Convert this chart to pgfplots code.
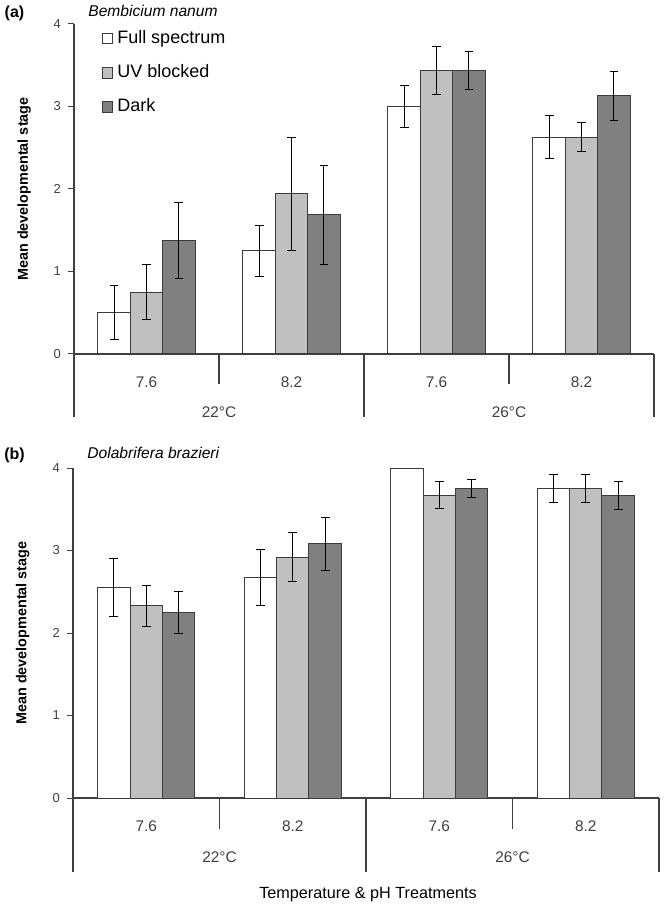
\documentclass[border=0pt]{standalone}
\usepackage{fontspec}
\setmainfont{Liberation Sans}
\usepackage{pgfplots}
\pgfplotsset{compat=1.18}
\definecolor{lgray}{RGB}{192,192,192}
\definecolor{dgray}{RGB}{128,128,128}
\definecolor{axgray}{RGB}{64,64,64}
\definecolor{outl}{RGB}{60,60,60}
\tikzset{sepline/.style={draw=axgray, line width=0.6pt}}

\pgfplotsset{
 mybars/.style={
  scale only axis, clip=false,
  xmin=-0.5, xmax=3.5, ymin=0, ymax=4,
  axis x line=bottom, axis y line=left,
  axis line style={-, draw=axgray, line width=0.6pt},
  ytick={0,1,2,3,4},
  yticklabel style={font=\fontsize{6.5}{7}\selectfont, text=axgray},
  /pgf/number format/assume math mode=true,
  ytick style={draw=axgray, line width=0.5pt}, tick align=outside, major tick length=3pt,
  xtick={0,1,2,3}, xticklabels={7.6,8.2,7.6,8.2}, xtick style={draw=none},
  xticklabel style={font=\fontsize{7.7}{8}\selectfont, text=axgray, anchor=center, yshift=-11pt},
  ybar=0pt, bar width=16.2pt,
  ylabel={\textbf{Mean developmental stage}},
  ylabel style={font=\fontsize{7.2}{8}\selectfont, at={(axis description cs:-0.086,0.5)}, anchor=center},
  legend image code/.code={\draw[#1, draw=outl, line width=0.5pt] (0pt,-2.6pt) rectangle (5.2pt,2.6pt);},
 },
 myerr/.style={
   error bars/y dir=both, error bars/y explicit,
   error bars/error bar style={black, line width=0.5pt},
   error bars/error mark options={rotate=90, black, line width=0.5pt, mark size=2.2pt}},
}

\begin{document}
\begin{tikzpicture}
\useasboundingbox (0,0) rectangle (332pt,-454pt);

% ---------- panel (a)
\node[font=\bfseries\fontsize{8}{9}\selectfont] at (7.25pt,-6.5pt) {(a)};
\node[anchor=west, font=\itshape\fontsize{7.8}{9}\selectfont, inner sep=0pt] at (44pt,-5.5pt) {Bembicium nanum};

\begin{axis}[mybars, at={(37pt,-177pt)}, anchor=south west, width=290pt, height=165pt,
  legend style={at={(0.037,1.005)}, anchor=north west, draw=none, fill=none,
    font=\fontsize{9}{10}\selectfont, row sep=5pt, legend cell align=left}]
\addplot[fill=white, draw=outl, line width=0.5pt, myerr] coordinates {(0,0.50) +- (0,0.33) (1,1.25) +- (0,0.31) (2,3.00) +- (0,0.26) (3,2.63) +- (0,0.26)};
\addplot[fill=lgray, draw=outl, line width=0.5pt, myerr] coordinates {(0,0.75) +- (0,0.33) (1,1.94) +- (0,0.69) (2,3.44) +- (0,0.29) (3,2.63) +- (0,0.18)};
\addplot[fill=dgray, draw=outl, line width=0.5pt, myerr] coordinates {(0,1.38) +- (0,0.46) (1,1.69) +- (0,0.60) (2,3.44) +- (0,0.23) (3,3.13) +- (0,0.30)};
\legend{Full spectrum, UV blocked, Dark}
\draw[sepline] (rel axis cs:0,0) -- ([yshift=-31.5pt]rel axis cs:0,0);
\draw[sepline] (rel axis cs:1,0) -- ([yshift=-31.5pt]rel axis cs:1,0);
\draw[sepline] (axis cs:1.5,0) -- ([yshift=-31.5pt]axis cs:1.5,0);
\draw[sepline] (axis cs:0.5,0) -- ([yshift=-15pt]axis cs:0.5,0);
\draw[sepline] (axis cs:2.5,0) -- ([yshift=-15pt]axis cs:2.5,0);
\node[font=\fontsize{7.7}{8}\selectfont, text=axgray] at ([yshift=-29pt]axis cs:0.5,0) {22°C};
\node[font=\fontsize{7.7}{8}\selectfont, text=axgray] at ([yshift=-29pt]axis cs:2.5,0) {26°C};
\end{axis}

% ---------- panel (b)
\node[font=\bfseries\fontsize{8}{9}\selectfont] at (7.25pt,-227.5pt) {(b)};
\node[anchor=west, font=\itshape\fontsize{7.8}{9}\selectfont, inner sep=0pt] at (43.5pt,-226.5pt) {Dolabrifera brazieri};

\begin{axis}[mybars, at={(36.5pt,-399pt)}, anchor=south west, width=293pt, height=165pt]
\addplot[fill=white, draw=outl, line width=0.5pt, myerr] coordinates {(0,2.55) +- (0,0.35) (1,2.67) +- (0,0.34) (2,4.00) (3,3.75) +- (0,0.17)};
\addplot[fill=lgray, draw=outl, line width=0.5pt, myerr] coordinates {(0,2.33) +- (0,0.25) (1,2.92) +- (0,0.30) (2,3.67) +- (0,0.165) (3,3.75) +- (0,0.17)};
\addplot[fill=dgray, draw=outl, line width=0.5pt, myerr] coordinates {(0,2.25) +- (0,0.25) (1,3.08) +- (0,0.32) (2,3.75) +- (0,0.11) (3,3.67) +- (0,0.17)};
\draw[sepline] (rel axis cs:0,0) -- ([yshift=-37pt]rel axis cs:0,0);
\draw[sepline] (rel axis cs:1,0) -- ([yshift=-37pt]rel axis cs:1,0);
\draw[sepline] (axis cs:1.5,0) -- ([yshift=-37pt]axis cs:1.5,0);
\draw[sepline] (axis cs:0.5,0) -- ([yshift=-15.5pt]axis cs:0.5,0);
\draw[sepline] (axis cs:2.5,0) -- ([yshift=-15.5pt]axis cs:2.5,0);
\node[font=\fontsize{7.7}{8}\selectfont, text=axgray] at ([yshift=-29.5pt]axis cs:0.5,0) {22°C};
\node[font=\fontsize{7.7}{8}\selectfont, text=axgray] at ([yshift=-29.5pt]axis cs:2.5,0) {26°C};
\end{axis}

\node[font=\fontsize{8.1}{9}\selectfont] at (184pt,-447.5pt) {Temperature \& pH Treatments};
\end{tikzpicture}
\end{document}
